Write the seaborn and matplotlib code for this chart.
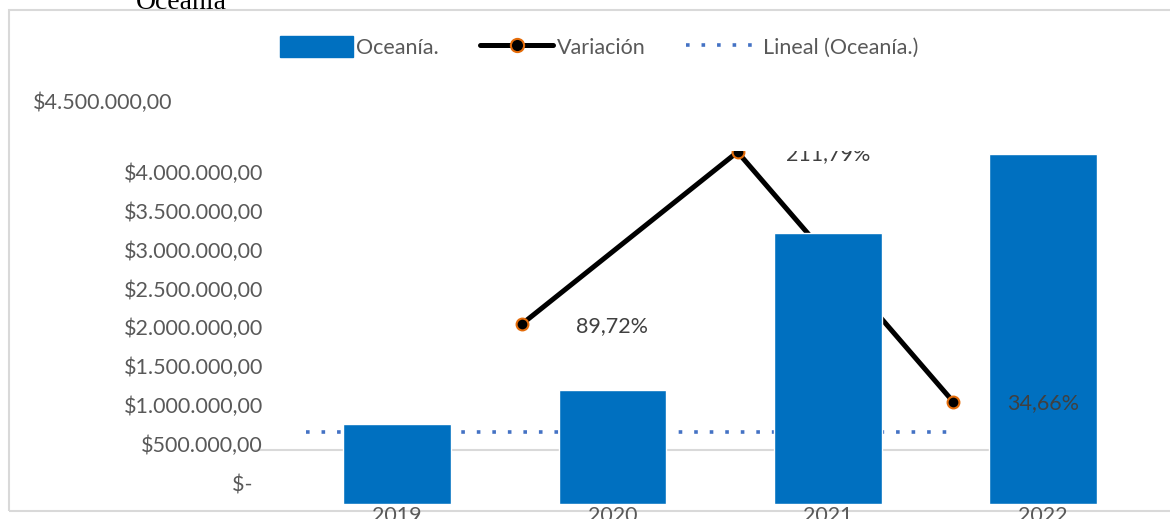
import matplotlib
matplotlib.use("Agg")
import matplotlib.pyplot as plt
import matplotlib.transforms as mtransforms
from matplotlib.patches import Patch, Rectangle
from matplotlib.lines import Line2D
import numpy as np
import pandas as pd
import seaborn as sns

# Data
years = ["2019", "2020", "2021", "2022"]
oceania = [1030000, 1465000, 3485000, 4500000]
variacion = [np.nan, 89.72, 211.79, 34.66]
tendencia = [925000, 925000, 925000, 925000]
y_ticks = [0, 500000, 1000000, 1500000, 2000000, 2500000, 3000000, 3500000, 4000000]
y_top_tick = 4500000

BLUE = "#0070C0"
GREY_TXT = "#595959"
DARK_TXT = "#404040"
FS = 15.5


def money(v):
    # accounting style: zero shown as a dash, padded on the right
    if v == 0:
        return "$-  "
    s = f"{v:,.2f}"
    s = s.replace(",", "X").replace(".", ",").replace("X", ".")
    return "$" + s


def pct(v):
    return f"{v:.2f}".replace(".", ",") + "%"


sns.set_style("white")
plt.rcParams["font.family"] = ["Lato", "DejaVu Sans"]

fig = plt.figure(figsize=(11.7, 5.19), dpi=100)
rect = [0.2474, 0.0289, 0.7361, 0.6802]

# primary axes: bars
ax = fig.add_axes(rect, label="main")
df = pd.DataFrame({"year": years, "value": oceania})
sns.barplot(data=df, x="year", y="value", color=BLUE, saturation=1,
            width=0.5, ax=ax)
ax.set_xlim(-0.5, 3.5)
ax.set_ylim(0, 4537000)
ax.set_xlabel("")
ax.set_ylabel("")
for s in ax.spines.values():
    s.set_visible(False)
ax.set_yticks(y_ticks, [money(v) for v in y_ticks])
ax.tick_params(axis="y", length=0, pad=19, labelsize=FS, labelcolor=GREY_TXT)
ax.tick_params(axis="x", length=0, pad=1.5, labelsize=FS, labelcolor=GREY_TXT)
# value labels sit a bit above their ticks in the original
offset = mtransforms.ScaledTranslation(0, 21 / 100, fig.dpi_scale_trans)
for lab in ax.get_yticklabels():
    lab.set_transform(lab.get_transform() + offset)

# secondary axes: variation line (shifted categories)
ax2 = fig.add_axes(rect, label="sec")
ax2.set_xlim(-0.079, 3.917)
ax2.set_ylim(-38.04, 212.5)
sns.lineplot(x=np.arange(4), y=variacion, ax=ax2, color="black", lw=3.6,
             marker="o", markersize=8.5, markerfacecolor="black",
             markeredgecolor="#E46C0A", markeredgewidth=1.5, legend=False)
ax2.axhline(0, xmin=-0.04, xmax=0.896, color="#d9d9d9", lw=1.5, clip_on=False)
ax2.axis("off")

# trend line of Oceanía on the shifted category axis
ax3 = ax2.twinx()
ax3.set_ylim(ax.get_ylim())
ax3.plot(np.arange(4), tendencia, color="#4472C4", lw=2.6,
         linestyle=(0, (1, 3.3)), dash_capstyle="butt")
ax3.axis("off")

ax.set_zorder(3)
ax2.set_zorder(1)
ax3.set_zorder(2)
for a in (ax, ax2, ax3):
    a.patch.set_visible(False)

# data labels of the variation series
trans = mtransforms.blended_transform_factory(ax.transData, ax2.transData)
lab_off = mtransforms.ScaledTranslation(0, -2 / 100, fig.dpi_scale_trans)
for i, v in enumerate(variacion):
    if np.isnan(v):
        continue
    ax.text(i, v, pct(v), transform=trans + lab_off, ha="center", va="center",
            fontsize=FS, color=DARK_TXT, clip_on=True)

# stray top value label
fig.text(33 / 1170, 1 - 103 / 519, money(y_top_tick), ha="left", va="center",
         fontsize=FS, color=GREY_TXT)

# title (cut by the top edge)
fig.text(181 / 1170, 1 - 9 / 519, "Oceanía", ha="center", va="baseline",
         fontsize=20, family="Liberation Serif", color="black")

# chart border
fig.add_artist(Rectangle((9 / 1170, 1 - 511 / 519), 1.05, 501 / 519,
                         transform=fig.transFigure, fill=False,
                         edgecolor="#d9d9d9", lw=1.5, clip_on=False))

handles = [
    Patch(facecolor=BLUE, edgecolor=BLUE),
    Line2D([], [], color="black", lw=3.6, marker="o", markersize=9.5,
           markerfacecolor="black", markeredgecolor="#E46C0A", markeredgewidth=1.5),
    Line2D([], [], color="#4472C4", lw=2.6, linestyle=(0, (1, 3.3)),
           dash_capstyle="butt"),
]
fig.legend(handles, ["Oceanía.", "Variación", "Lineal (Oceanía.)"],
           loc="center", bbox_to_anchor=(0.512, 1 - 47 / 519), ncol=3,
           frameon=False, fontsize=FS, labelcolor=GREY_TXT,
           handlelength=3.4, handleheight=1.1, handletextpad=0.15,
           columnspacing=1.9)

fig.savefig("out.png", dpi=100, facecolor="white")
